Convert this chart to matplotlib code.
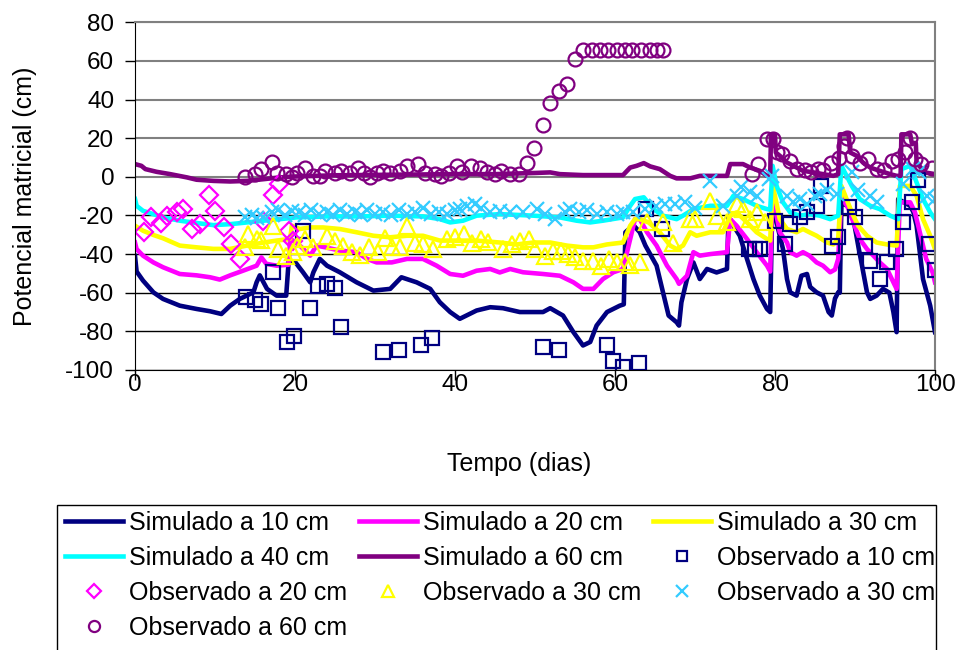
import matplotlib
matplotlib.use("Agg")
import matplotlib.pyplot as plt
from matplotlib.patches import Rectangle

plt.rcParams['font.family'] = ['Liberation Sans', 'DejaVu Sans']
plt.rcParams['axes.unicode_minus'] = False

# ========== Simulated series (day, cm) ==========
sim10_t = [0, 0.2, 1, 2.3, 3.5, 5.6, 7.7, 9.4, 10.8, 11.9, 13.1, 14.8, 15.2, 15.6, 16.5, 17.7, 18.9, 19.2,
           20, 21, 21.9, 22.3, 23.1, 24, 25.6, 27.7, 29.8, 31.9, 33.3, 35.2, 36.9, 38.1, 39.4, 40.6, 42.7,
           44.4, 46, 48.1, 51, 51.9, 53.5, 54.8, 56, 56.9, 57.7, 59, 60.6, 61.1, 61.3, 62.3, 63.1, 63.8,
           65.2, 66, 66.7, 67.7, 68, 68.3, 69, 69.8, 70.6, 71.5, 72.7, 74, 74.2, 74.8, 75.6, 76.5, 77.3,
           78.1, 79, 79.4, 79.7, 80.2, 81, 81.5, 81.9, 82.7, 83.3, 84, 84.4, 85.2, 86, 86.7, 87.1, 87.5,
           87.9, 88.1, 88.3, 89.2, 89.8, 90.4, 90.8, 91.5, 91.9, 92.7, 93.5, 94.3, 94.8, 95.2, 95.4, 96.9,
           97.3, 97.7, 98.1, 98.5, 99.4, 100]
sim10_v = [-41, -49, -53.7, -59.8, -63.2, -66.7, -68.4, -69.6, -71, -66.7, -63.2, -59.8, -54.6, -51, -58, -61.5,
           -61.5, -44, -44, -49.4, -54.6, -49.4, -42.5, -46, -49.4, -54.6, -58.9, -58, -52, -54.6, -58, -64.9,
           -70, -73.5, -69.2, -67.5, -68, -70, -70, -68, -71.8, -80.4, -87.3, -85.5, -77, -70, -66.7, -66,
           -28.7, -25, -28.7, -35.6, -46, -59.8, -71.8, -75.3, -77, -65, -52.9, -44.3, -52.9, -47.7, -49.5,
           -47.7, -20.2, -25.3, -30.5, -42.5, -52.9, -61.5, -68.4, -70, -6, -23.6, -37.4, -52.9, -59.8,
           -61.5, -51.2, -50.3, -57, -59.8, -61.5, -70, -71.8, -63, -59.8, -60, -14, -15, -21.9, -35.6,
           -44.3, -59.8, -63.2, -61.5, -58, -60, -70, -80.4, -11.5, -15, -18.3, -25.3, -39, -52.9, -66.7,
           -80.4]

sim20_t = [0, 0.2, 1, 2.3, 3.5, 5.6, 7.7, 9.4, 10.6, 11.9, 13.5, 15.2, 15.8, 16.4, 17.7, 19.2, 19.4, 20.6,
           21.9, 22.7, 23.8, 25.6, 27.7, 29, 30.2, 32.1, 34, 36, 37.7, 39.4, 41, 42.7, 44.4, 45.6, 46.9, 48.5,
           51, 53.1, 54.8, 56, 57.3, 58.5, 59.8, 61, 61.9, 62.5, 63.1, 64, 65.2, 66.5, 67.7, 68, 69, 69.8,
           70.6, 71.9, 74, 74.4, 75.2, 76.5, 77.7, 79, 79.4, 79.7, 80.2, 80.6, 81.5, 81.9, 82.7, 83.5, 84.3,
           85.2, 86, 86.9, 87.5, 87.9, 88.3, 89.2, 89.8, 90.6, 91.5, 92.3, 93.1, 94, 94.8, 95.2, 95.6, 96.9,
           97.5, 98.1, 98.9, 99.7, 100]
sim20_v = [-34, -37.4, -40.8, -44.3, -46.8, -50.3, -51, -52, -53.2, -51, -48.6, -46, -41.7, -45, -46, -45.5,
           -32, -35.6, -40.8, -35.6, -36.5, -38.2, -39, -42.5, -44.3, -44.3, -42.5, -42.5, -46, -50.3, -51.2,
           -48.6, -47.7, -49.5, -47.7, -49.4, -50.3, -51.2, -54.6, -58, -58, -52.9, -49.4, -47.7, -32.2,
           -21.9, -21.9, -28.7, -35.6, -46, -52.9, -55.4, -51.2, -39, -40.8, -40, -39, -21.9, -25.3, -32.2,
           -39, -46, -49, -6, -20.1, -28.7, -34, -39, -40.8, -39, -40.8, -44.3, -46, -49.4, -48, -42.5, -9.8,
           -16.7, -23.6, -32.2, -37.4, -40.8, -44.3, -47.7, -54.6, -58, -13.2, -13.2, -18.4, -28.7, -42.5,
           -49.4, -54.6]

sim30_t = [0, 1, 2.3, 3.5, 5.6, 7.7, 9.8, 11.9, 14, 16.1, 17.7, 18.9, 19.4, 19.6, 20.6, 21.9, 23.5, 25.6,
           27.7, 29.8, 31.9, 34, 36, 38.1, 40.2, 42.7, 45.6, 47.7, 49.8, 51.9, 54, 56, 57.3, 59, 61, 61.9,
           62.5, 63.1, 64.2, 65.6, 66.9, 67.7, 68.5, 69.4, 70.2, 71.9, 73.5, 74.4, 75.2, 76.5, 77.7, 79,
           79.4, 79.7, 80.6, 81.5, 82.7, 83.5, 84.3, 85.2, 86.5, 87.3, 87.9, 88.3, 89.6, 90.4, 91.5, 92.7,
           94, 95.2, 95.6, 96.9, 97.7, 98.5, 99.4, 100]
sim30_v = [-25.3, -27.9, -30.1, -31.8, -35.6, -36.5, -37.3, -37.3, -35.6, -34, -33, -32.4, -32, -25.3, -27,
           -26.2, -26.2, -27, -28.7, -30.5, -31.3, -30.5, -30.5, -33, -33, -33, -34, -35, -34, -34, -35.6,
           -36.5, -36.5, -35, -34, -25.3, -21.9, -21.9, -23.6, -28.7, -35.6, -37.4, -35.6, -28.7, -30.5,
           -28.7, -28.7, -20.1, -18.4, -23.6, -28.7, -32.2, -33, -4, -21.9, -27, -28.7, -27, -28.7, -30.5,
           -34, -35, -32, -4.7, -18.4, -25.3, -30.5, -34, -35, -35.6, -4.7, -4.7, -9.8, -21.9, -30.5, -37.4]

sim40_t = [0, 0.2, 1, 2.3, 3.5, 5.6, 7.7, 9.8, 11.9, 14, 16.1, 18.1, 20.2, 24, 28, 32, 36, 38.1, 39.4, 41,
           42.7, 45.6, 49.8, 53.1, 55.2, 56.9, 58.5, 61, 61.9, 62.5, 63.6, 64.8, 66, 67.7, 68.5, 69.8, 71.9,
           74, 74.8, 76, 77.7, 79, 79.4, 79.7, 80.2, 81, 81.9, 83.1, 84.3, 85.6, 86.9, 87.9, 88.3, 89.6,
           90.6, 91.9, 93.1, 94.4, 95.4, 95.8, 96.9, 97.7, 98.5, 99.4, 100]
sim40_v = [-11.5, -15, -17.6, -19.3, -21, -22.7, -23.9, -25, -24.5, -23.6, -22.7, -21.9, -21, -20.5, -20.5,
           -20.1, -20.5, -21.9, -23.6, -22.7, -20.1, -19.3, -20.1, -21, -22.7, -23.6, -22.7, -21, -15, -11.5,
           -10.6, -16.7, -20.1, -21.9, -20.1, -16.7, -15, -15, -9.8, -11.5, -15, -16.7, -17, 5.7, -4.7,
           -13.2, -18.4, -20.1, -19.3, -20.1, -21.9, -20.1, 5.7, -4.7, -11.5, -15, -16.7, -20.1, -21.9, 4,
           5.7, -2.9, -11.5, -18.4, -21.9]

sim60_t = [0, 0.8, 1.3, 2.7, 4.4, 6.5, 7.7, 9.8, 11.9, 14, 16.1, 18.1, 20.2, 25, 30, 35, 40, 45, 50, 51.9,
           53.1, 56, 61, 61.9, 62.7, 63.6, 64.4, 65.6, 66.9, 67.7, 69.4, 70.6, 74, 74.4, 76, 76.9, 78.1, 79,
           79.4, 79.5, 80, 80.1, 80.6, 81.5, 82.3, 83.5, 84.8, 86, 87.3, 87.9, 88.1, 89.2, 89.4, 90.2, 91,
           91.9, 93.1, 94.4, 95.2, 95.7, 95.8, 96.9, 97.1, 97.6, 97.7, 98.7, 100]
sim60_v = [6.6, 5.7, 4, 2.6, 1.4, -0.3, -1.5, -2.1, -2.4, -2.1, -1.2, -0.3, 0.2, 0.8, 1, 1.2, 1.4, 1.4, 2,
           2.3, 1.4, 0.9, 0.9, 4.8, 5.7, 7.1, 5.4, 4, 0.5, -0.8, -0.8, 0.5, 0.5, 6.6, 6.6, 4.8, 3.1, 0.5,
           0.5, 22, 22, 12.6, 10.9, 7.4, 5.7, 3.1, 2.3, 1.4, 0.5, 1.4, 22, 22, 12.6, 10.9, 7.4, 4.8, 3.1,
           1.4, 0.5, 0.5, 22, 22, 17.5, 17.5, 7.4, 2.3, 1.4]

# ========== Observed series ==========
obs10_t = [13.9, 15, 15.8, 17.2, 17.9, 19, 19.9, 21, 21.9, 22.9, 24, 25, 25.8, 31, 33, 35.8, 37.1, 51, 53,
           59, 59.8, 61, 63, 63.9, 65.9, 76.7, 77.5, 78.1, 80, 81.25, 81.9, 83.1, 84, 85.2, 85.8, 87.1,
           87.9, 89.2, 90, 91.25, 91.9, 93.1, 94, 95.1, 96, 97.1, 97.9, 99.2, 100]
obs10_v = [-62, -64, -65.8, -49.1, -68, -85.6, -82.2, -27.9, -68, -56.3, -55.4, -57.7, -77.5, -90.8, -89.4,
           -87, -83.5, -88.2, -89.4, -87, -95.1, -98.5, -96.3, -16.7, -27, -37.4, -37.4, -37.4, -22.7,
           -34.8, -24.4, -21, -18.4, -15, -4.7, -35.6, -31.3, -15.8, -21, -35.6, -43.4, -52.9, -44.3,
           -37.4, -23.6, -13.2, -1.7, -34.8, -48]

obs20_t = [1.1, 2, 3.2, 4, 5.2, 6, 7.1, 8.1, 9.2, 10, 11.1, 12, 13.1, 16, 17.2, 18, 19.2, 19.8]
obs20_v = [-28.4, -21, -23.9, -20.1, -18.1, -16.7, -27, -24.4, -9.5, -17.6, -25.8, -34.8, -42.5, -22.7,
           -9.5, -3.8, -27.9, -33]

obs30_t = [13.8, 14.1, 15.2, 15.8, 17.2, 17.9, 18.9, 19.8, 20.2, 21.25, 22.3, 24, 25, 26, 27.1, 28.1, 29.2,
           30.4, 31.25, 32.1, 33.1, 34, 35, 36, 37.3, 39, 40, 41.1, 42.1, 43.2, 44.1, 46, 47.1, 48.1, 49.2,
           50, 51.25, 52.3, 53.3, 54.1, 55, 56, 57.3, 58.3, 59.2, 60.2, 61.25, 61.9, 63.1, 64, 66, 67.3,
           69.4, 70, 71.9, 72.7, 74, 75.2, 76, 76.9, 77.7, 78.7]
obs30_v = [-36.5, -29.6, -32.2, -32.5, -25.3, -37.4, -40.8, -39, -35.6, -32.2, -36.5, -30.5, -33, -35.6,
           -39, -40.5, -36.5, -39, -31.8, -36.5, -36.5, -25.3, -34, -35, -37.4, -32.2, -31.3, -29.6, -34.3,
           -32.2, -33.5, -37.4, -34.8, -33, -32.2, -37.4, -40.8, -38.2, -38.2, -40, -41.7, -43.4, -43.4,
           -46, -42.5, -43.9, -43.9, -45.5, -44, -23.6, -23.6, -34, -21.9, -21.9, -12.4, -20.1, -23.6,
           -14.1, -16.7, -21.9, -18.4, -23.6]

obs40_t = [13.75, 14.6, 15.2, 16, 17.1, 17.9, 18.75, 19.6, 20.5, 21.3, 22, 23, 24, 24.8, 25.6, 26.5, 27.5,
           28.2, 29, 30, 31, 32, 33, 34, 35, 36, 37, 38, 39, 40, 40.6, 41.5, 42.5, 43.2, 44.4, 45.6, 46.9,
           48.5, 50.2, 51.2, 52.5, 53.7, 54.4, 55.5, 56.5, 57.7, 59, 60.2, 61, 62.3, 63.8, 65.1, 66.2, 67.5,
           68.8, 70, 71.9, 73.5, 75.2, 75.8, 76.9, 77.7, 79.2, 79.6, 81.5, 82.3, 83.1, 84, 85, 85.6, 86.5,
           87.7, 89.6, 90.4, 91.9, 92.7, 96, 97.3, 98, 99, 100]
obs40_v = [-21, -20, -21.5, -21, -18.4, -17, -19.5, -17.5, -18, -20, -17, -19, -18, -20, -17, -19, -18, -20,
           -17, -19, -18, -20, -17, -19, -18, -16, -19, -18, -19, -17, -16.7, -15, -14, -16, -18.4, -17.6,
           -18, -18.4, -16.7, -19, -21.9, -18.4, -16.7, -18, -17, -19, -18.4, -19, -18.4, -18, -16.7, -15,
           -14, -14, -13, -16, -2, -15, -9.8, -5.5, -8, -9.8, -1.2, 0.5, -9.8, -13, -11.5, -14, -9.8, -9,
           -7, -9, 2.3, -7, -9.8, -13, -3.8, 4, 2.3, -9.8, -11.5]

obs60_t = [13.75, 15, 15.8, 17.1, 17.7, 18.9, 19.6, 20.2, 21.25, 22.3, 23.1, 23.8, 25, 25.8, 26.9, 27.9,
           28.6, 29.4, 30.2, 31, 31.9, 33.1, 34, 35.4, 36.3, 37.5, 38.3, 39.2, 40.2, 40.9, 42, 43.1, 44, 45,
           45.8, 46.9, 48, 49, 49.9, 51, 51.9, 53, 54, 55, 56, 57.1, 58.1, 59.1, 60.2, 61.25, 62.1, 63.3,
           64.4, 65.2, 66, 77.1, 77.9, 79, 79.7, 80.3, 80.9, 81.9, 82.7, 83.75, 84.5, 85.4, 86, 87, 88,
           88.6, 89, 89.6, 90.6, 91.6, 92.7, 93.6, 94.6, 95.4, 96.2, 96.9, 97.5, 98.3, 99.6]
obs60_v = [-0.3, 1.4, 4, 7.8, 2, 1.4, 0, 2, 4.8, 0.5, 0.5, 3, 2, 3, 2, 4.8, 2, -0.3, 2, 3, 2, 3, 5.7, 6.6,
           2, 1.4, 0.5, 2, 5.7, 2.3, 5.7, 4.8, 2.3, 1.4, 2.8, 1.4, 1.4, 7.4, 14.8, 26.7, 38.4, 44.4, 47.9,
           60.8, 65.6, 65.6, 65.6, 65.6, 65.6, 65.6, 65.6, 65.6, 65.6, 65.6, 65.6, 1.4, 6.6, 19.5, 19.5,
           12.7, 11.7, 8.3, 4, 3.5, 2.3, 4, 3.5, 7.4, 10, 16, 20, 10.9, 7.4, 9.1, 4, 3.5, 8.3, 9, 12.6, 20,
           9, 6.5, 4.8]

# ========== Plotting ==========
fig = plt.figure(figsize=(9.64, 6.5), dpi=100)
ax = fig.add_axes([135 / 964, 1 - 370 / 650, 800 / 964, 347.7 / 650])

LW = 3.3
l10, = ax.plot(sim10_t, sim10_v, color='#000080', lw=LW, label='Simulado a 10 cm')
l20, = ax.plot(sim20_t, sim20_v, color='#FF00FF', lw=LW, label='Simulado a 20 cm')
l30, = ax.plot(sim30_t, sim30_v, color='#FFFF00', lw=LW, label='Simulado a 30 cm')
l40, = ax.plot(sim40_t, sim40_v, color='#00FFFF', lw=LW, label='Simulado a 40 cm')
l60, = ax.plot(sim60_t, sim60_v, color='#800080', lw=LW, label='Simulado a 60 cm')

o10, = ax.plot(obs10_t, obs10_v, ls='none', marker='s', ms=9.5, mfc='none', mec='#000080', mew=1.6,
               label='Observado a 10 cm')
o20, = ax.plot(obs20_t, obs20_v, ls='none', marker='D', ms=9, mfc='none', mec='#FF00FF', mew=1.6,
               label='Observado a 20 cm')
o30, = ax.plot(obs30_t, obs30_v, ls='none', marker='^', ms=11, mfc='none', mec='#FFFF00', mew=1.6,
               label='Observado a 30 cm')
o40, = ax.plot(obs40_t, obs40_v, ls='none', marker='x', ms=10, mec='#33CCFF', mew=1.6,
               label='Observado a 30 cm')
o60, = ax.plot(obs60_t, obs60_v, ls='none', marker='o', ms=10, mfc='none', mec='#800080', mew=1.6,
               label='Observado a 60 cm')

ax.set_xlim(0, 100)
ax.set_ylim(-100, 80)
ax.set_xticks(range(0, 101, 20))
ax.set_yticks(range(-100, 81, 20))
ax.tick_params(axis='y', direction='out', length=7, width=1, pad=8, labelsize=17.5)
ax.tick_params(axis='x', direction='out', length=7, width=1, pad=-4, labelsize=17.5)

ax.set_axisbelow(True)
ax.yaxis.grid(True, lw=1)
for val, gl in zip(ax.get_yticks(), ax.get_ygridlines()):
    gl.set_color('#808080' if val >= 0 else 'black')
    if val >= 0:
        gl.set_linewidth(1.5)

for s in ['top', 'right']:
    ax.spines[s].set_color('#808080')
    ax.spines[s].set_linewidth(1.5)

ax.set_xlabel('Tempo (dias)', fontsize=18)
ax.xaxis.set_label_coords(0.48, -0.235)
ax.set_ylabel('Potencial matricial (cm)', fontsize=18)
ax.yaxis.set_label_coords(-0.123, 0.5)

# legend box runs off the bottom of the image
fig.add_artist(Rectangle((57 / 964, -0.05), 879 / 964, (650 - 505) / 650 + 0.05,
                         transform=fig.transFigure, fill=False, ec='black', lw=1))

handles = [l10, l40, o20, o60, l20, l60, o30, l30, o10, o40]
leg = fig.legend(handles, [h.get_label() for h in handles], ncol=3, loc='upper left',
                 bbox_to_anchor=(65 / 964, 1 - 511 / 650), frameon=False, fontsize=18,
                 borderpad=0, borderaxespad=0, handlelength=2.32, handletextpad=0.24,
                 columnspacing=0.48, labelspacing=0.44, markerscale=0.8, numpoints=1)

fig.savefig('out.png', dpi=100)
